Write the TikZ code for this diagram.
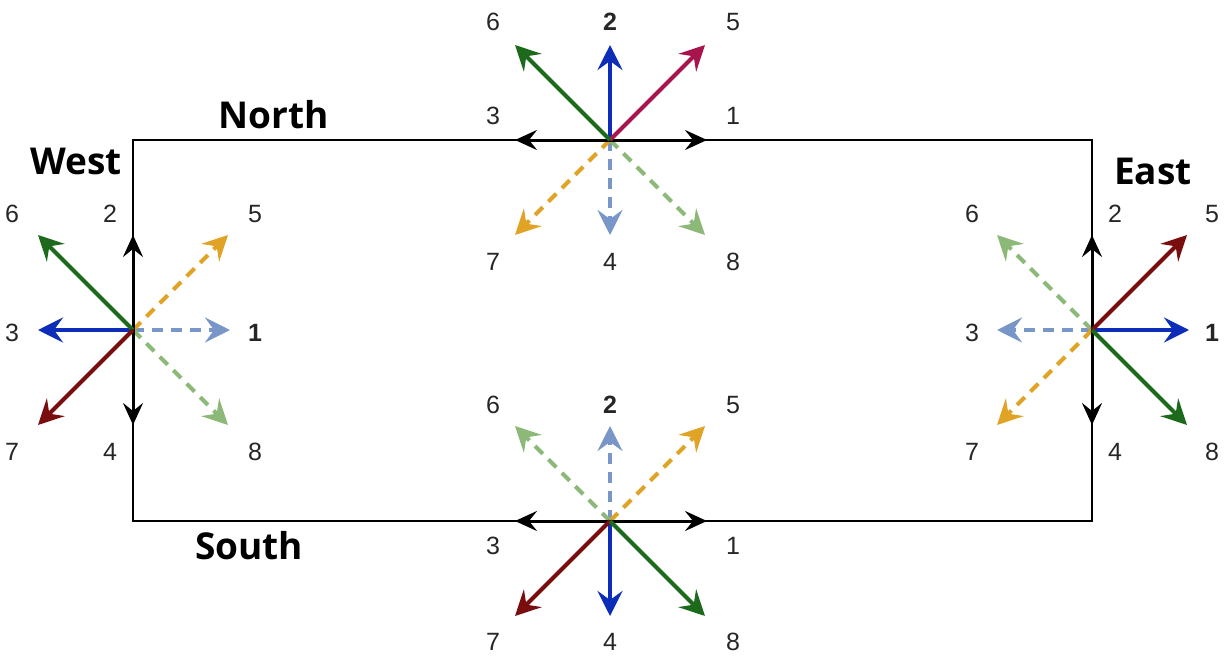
\documentclass[tikz,border=0pt]{standalone}
\usepackage{fontspec}
\setmainfont{Liberation Sans}
\newfontfamily\hfont{Open Sans}
\usetikzlibrary{arrows.meta,calc}
\definecolor{dgreen}{HTML}{1D6A1D}
\definecolor{dblue}{HTML}{0D2DB8}
\definecolor{crim}{HTML}{A8154E}
\definecolor{dred}{HTML}{7A0E0E}
\definecolor{yel}{HTML}{E0A326}
\definecolor{lblue}{HTML}{7896C8}
\definecolor{lgreen}{HTML}{8CB878}
\tikzset{
  tip/.style={-{Stealth[length=25pt,width=25pt,inset=9pt]}},
  solidarr/.style={tip,line width=4pt,draw=#1},
  blackarr/.style={-{Stealth[length=22pt,width=20pt,inset=8pt]},line width=3pt,draw=black},
  dasharr/.style={tip,line width=4pt,draw=#1,dash pattern=on 11pt off 8pt},
  num/.style={font=\fontsize{25}{28}\selectfont,text=black!85,inner sep=0pt},
  bnum/.style={num,font=\fontsize{25}{28}\selectfont\bfseries},
  head/.style={font=\hfont\fontsize{37}{42}\selectfont\bfseries,inner sep=0pt},
  frame/.style={line width=2.2pt,draw=black}
}
\begin{document}
\begin{tikzpicture}[x=1pt,y=-1pt]
\useasboundingbox (0,0) rectangle (1225,661);
% frame
\coordinate (TL) at (133,140);
\coordinate (BR) at (1092,521);
\draw[frame] (TL) rectangle (BR);
% centers
\coordinate (Nc) at (610,140);
\coordinate (Wc) at (133,330);
\coordinate (Ec) at (1092,330);
\coordinate (Sc) at (610,521);
% arrow ends
\foreach \c in {N,W,E,S}{
  \foreach \n/\dx/\dy in {1/97/0,2/0/-95,3/-95/0,4/0/95,5/95/-95,6/-95/-95,7/-95/95,8/95/95}{
    \path (\c c) ++(\dx,\dy) coordinate (\c-\n);
  }
}
% North cluster
\draw[dasharr=lblue] (Nc) -- (N-4);
\draw[dasharr=yel] (Nc) -- (N-7);
\draw[dasharr=lgreen] (Nc) -- (N-8);
\draw[blackarr] (Nc) -- (N-1);
\draw[blackarr] (Nc) -- (N-3);
\draw[solidarr=dblue] (Nc) -- (N-2);
\draw[solidarr=crim] (Nc) -- (N-5);
\draw[solidarr=dgreen] (Nc) -- (N-6);
% West cluster
\draw[dasharr=lblue] (Wc) -- (W-1);
\draw[dasharr=yel] (Wc) -- (W-5);
\draw[dasharr=lgreen] (Wc) -- (W-8);
\draw[blackarr] (Wc) -- (W-2);
\draw[blackarr] (Wc) -- (W-4);
\draw[solidarr=dblue] (Wc) -- (W-3);
\draw[solidarr=dgreen] (Wc) -- (W-6);
\draw[solidarr=dred] (Wc) -- (W-7);
% East cluster
\draw[dasharr=lblue] (Ec) -- (E-3);
\draw[dasharr=lgreen] (Ec) -- (E-6);
\draw[dasharr=yel] (Ec) -- (E-7);
\draw[blackarr] (Ec) -- (E-2);
\draw[blackarr] (Ec) -- (E-4);
\draw[solidarr=dblue] (Ec) -- (E-1);
\draw[solidarr=dred] (Ec) -- (E-5);
\draw[solidarr=dgreen] (Ec) -- (E-8);
% South cluster
\draw[dasharr=lblue] (Sc) -- (S-2);
\draw[dasharr=yel] (Sc) -- (S-5);
\draw[dasharr=lgreen] (Sc) -- (S-6);
\draw[blackarr] (Sc) -- (S-1);
\draw[blackarr] (Sc) -- (S-3);
\draw[solidarr=dblue] (Sc) -- (S-4);
\draw[solidarr=dred] (Sc) -- (S-7);
\draw[solidarr=dgreen] (Sc) -- (S-8);
% labels North
\foreach \n/\dx/\dy in {1/123/-24,3/-117/-24,4/0/122,5/123/-118,6/-117/-118,7/-117/122,8/123/122}{
  \node[num] (LN\n) at ($(Nc)+(\dx,\dy)$) {\n};
}
\node[bnum] (LN2) at ($(Nc)+(0,-118)$) {2};
% labels West
\foreach \n/\dx/\dy in {2/-23/-116,3/-121/3,4/-23/122,5/122/-116,6/-121/-116,7/-121/122,8/122/122}{
  \node[num] (LW\n) at ($(Wc)+(\dx,\dy)$) {\n};
}
\node[bnum] (LW1) at ($(Wc)+(122,3)$) {1};
% labels East
\foreach \n/\dx/\dy in {2/23/-116,3/-120/3,4/23/122,5/120/-116,6/-120/-116,7/-120/122,8/120/122}{
  \node[num] (LE\n) at ($(Ec)+(\dx,\dy)$) {\n};
}
\node[bnum] (LE1) at ($(Ec)+(120,3)$) {1};
% labels South
\foreach \n/\dx/\dy in {1/123/25,3/-117/25,4/0/121,5/123/-116,6/-117/-116,7/-117/121,8/123/121}{
  \node[num] (LS\n) at ($(Sc)+(\dx,\dy)$) {\n};
}
\node[bnum] (LS2) at ($(Sc)+(0,-116)$) {2};
% headings
\node[head] (north) at (274,115) {North};
\node[head] (west) at (76,161) {West};
\node[head] (east) at (1153,171) {East};
\node[head] (south) at (249,546) {South};
\end{tikzpicture}
\end{document}
